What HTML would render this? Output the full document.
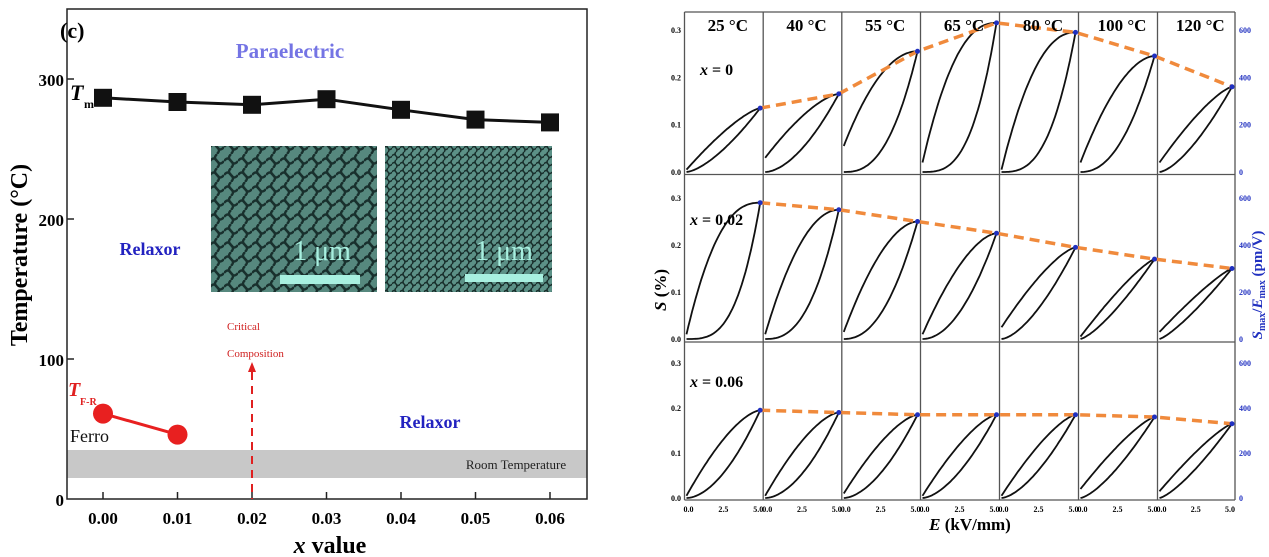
<!DOCTYPE html>
<html><head><meta charset="utf-8"><style>
body{margin:0;background:#fff}
svg{display:block;font-family:"Liberation Serif",serif;font-weight:bold}
</style></head><body>
<svg id="s" width="1269" height="557" viewBox="0 0 1269 557" xmlns="http://www.w3.org/2000/svg">
<rect x="67" y="450" width="520" height="28" fill="#c8c8c8"/>
<rect x="67" y="9" width="520" height="490" fill="none" stroke="#222" stroke-width="1.5"/>
<g stroke="#222" stroke-width="1.5">
<line x1="103" y1="499" x2="103" y2="492"/><line x1="177.5" y1="499" x2="177.5" y2="492"/><line x1="252" y1="499" x2="252" y2="492"/><line x1="326.5" y1="499" x2="326.5" y2="492"/><line x1="401" y1="499" x2="401" y2="492"/><line x1="475.5" y1="499" x2="475.5" y2="492"/><line x1="550" y1="499" x2="550" y2="492"/>
<line x1="67" y1="79" x2="74" y2="79"/><line x1="67" y1="219" x2="74" y2="219"/><line x1="67" y1="359" x2="74" y2="359"/>
</g>
<g font-size="17" text-anchor="end">
<text x="64" y="86">300</text><text x="64" y="226">200</text><text x="64" y="366">100</text><text x="64" y="506">0</text>
</g>
<g font-size="17" text-anchor="middle">
<text x="103" y="524">0.00</text><text x="177.5" y="524">0.01</text><text x="252" y="524">0.02</text><text x="326.5" y="524">0.03</text><text x="401" y="524">0.04</text><text x="475.5" y="524">0.05</text><text x="550" y="524">0.06</text>
</g>
<text x="330" y="553" font-size="24" text-anchor="middle"><tspan font-style="italic">x</tspan> value</text>
<text transform="translate(27,255) rotate(-90)" font-size="24" text-anchor="middle">Temperature (°C)</text>
<text x="60" y="38" font-size="22">(c)</text>
<text x="290" y="58" font-size="21" fill="#7474e4" text-anchor="middle">Paraelectric</text>
<text x="150" y="255" font-size="18" fill="#2222c0" text-anchor="middle">Relaxor</text>
<text x="430" y="428" font-size="18" fill="#2222c0" text-anchor="middle">Relaxor</text>
<text x="70" y="442" font-size="18" font-weight="normal" fill="#111">Ferro</text>
<text x="70" y="100" font-size="22" font-style="italic">T</text><text x="84" y="108" font-size="12">m</text>
<text x="68" y="396" font-size="20" font-style="italic" fill="#e02020">T</text><text x="80" y="405" font-size="10" fill="#e02020">F-R</text>
<text x="516" y="469" font-size="13" font-weight="normal" fill="#222" text-anchor="middle">Room Temperature</text>
<text x="227" y="330" font-size="11" font-weight="normal" fill="#d02020">Critical</text>
<text x="227" y="357" font-size="11" font-weight="normal" fill="#d02020">Composition</text>
<line x1="252" y1="372" x2="252" y2="499" stroke="#e02020" stroke-width="2" stroke-dasharray="8,6"/>
<polygon points="248,372 256,372 252,362" fill="#e02020"/>
<polyline points="103,97.8 177.5,102 252,104.8 326.5,99.2 401,109.8 475.5,119.6 550,122.4" fill="none" stroke="#111" stroke-width="3"/>
<g fill="#111">
<rect x="94" y="88.8" width="18" height="18"/><rect x="168.5" y="93" width="18" height="18"/><rect x="243" y="95.8" width="18" height="18"/><rect x="317.5" y="90.2" width="18" height="18"/><rect x="392" y="100.8" width="18" height="18"/><rect x="466.5" y="110.6" width="18" height="18"/><rect x="541" y="113.4" width="18" height="18"/>
</g>
<line x1="103" y1="413.6" x2="177.5" y2="434.6" stroke="#e82020" stroke-width="3"/>
<circle cx="103" cy="413.6" r="10" fill="#e82020"/><circle cx="177.5" cy="434.6" r="10" fill="#e82020"/>
<defs>
<pattern id="dom" width="14" height="14" patternUnits="userSpaceOnUse"><rect width="14" height="14" fill="#7fbcb0"/><path d="M0 7 Q4 2 7 7 T14 7 M7 0 Q3 4 7 7 T7 14" stroke="#1a2a28" stroke-width="2.4" fill="none"/></pattern>
<pattern id="dom2" width="8" height="8" patternUnits="userSpaceOnUse"><rect width="8" height="8" fill="#80c0b4"/><path d="M0 4 Q2 1 4 4 T8 4 M4 0 Q2 2 4 4 T4 8" stroke="#1a2a28" stroke-width="1.5" fill="none"/></pattern>
</defs>
<rect x="211" y="146" width="166" height="146" fill="url(#dom)"/>
<rect x="211" y="146" width="166" height="146" fill="#1a3a34" opacity="0.4"/>
<rect x="385" y="146" width="167" height="146" fill="url(#dom2)"/>
<rect x="385" y="146" width="167" height="146" fill="#1a3a34" opacity="0.35"/>
<text x="322" y="260" font-size="28" fill="#a8f0e0" text-anchor="middle" font-weight="normal">1 μm</text>
<rect x="280" y="275" width="80" height="9" fill="#a8f0e0"/>
<text x="504" y="260" font-size="28" fill="#a8f0e0" text-anchor="middle" font-weight="normal">1 μm</text>
<rect x="465" y="274" width="78" height="8" fill="#a8f0e0"/>
<g stroke="#555" stroke-width="1.3">
<line x1="684.5" y1="12" x2="684.5" y2="500"/><line x1="763.2" y1="12" x2="763.2" y2="500"/><line x1="841.8" y1="12" x2="841.8" y2="500"/><line x1="920.5" y1="12" x2="920.5" y2="500"/><line x1="999.5" y1="12" x2="999.5" y2="500"/><line x1="1078.5" y1="12" x2="1078.5" y2="500"/><line x1="1157.5" y1="12" x2="1157.5" y2="500"/><line x1="1235" y1="12" x2="1235" y2="500"/>
<line x1="684.5" y1="12" x2="1235" y2="12"/><line x1="684.5" y1="174.5" x2="1235" y2="174.5"/><line x1="684.5" y1="342" x2="1235" y2="342"/><line x1="684.5" y1="500" x2="1235" y2="500"/>
</g>
<g id="right"></g>
</svg>
<script>
var g=document.getElementById('right'),h='';
var cols=[684.5,763.2,841.8,920.5,999.5,1078.5,1157.5,1235];
var rows=[[12,174,32],[175,341,200],[343,500,365]];
var temps=['25 °C','40 °C','55 °C','65 °C','80 °C','100 °C','120 °C'];
var smax=[[.135,.165,.255,.315,.295,.245,.18],[.29,.275,.25,.225,.195,.17,.15],[.195,.19,.185,.185,.185,.18,.165]];
var wid=[[.25,.4,.9,1.2,1.1,.7,.25],[1.3,.9,.7,.55,.3,.15,.1],[.45,.45,.4,.35,.3,.2,.15]];
var s0u=[[.005,.03,.055,.02,.005,.02,.02],[.01,.01,.015,.01,.025,.005,.015],[.005,.005,.01,.005,.005,.02,.015]];
var names=['x = 0','x = 0.02','x = 0.06'],ny=[75,225,387];
for(var r=0;r<3;r++){
 var top=rows[r][0],bot=rows[r][1],y3=rows[r][2],k=(bot-y3)/0.3;
 var ends=[];
 for(var c=0;c<7;c++){
  var x0=cols[c]+2,x1=cols[c+1]-3,m=smax[r][c],w=wid[r][c],su0=s0u[r][c];
  var up='',lo='';
  for(var i=0;i<=40;i++){var t=i/40;
   var pl=1.1+1.6*w, pu=1.1+1.0*w;
   var sl=m*Math.pow(t,pl);
   var su=su0+(m-su0)*(1-Math.pow(1-t,pu));
   var xx=x0+(x1-x0)*t;
   lo+=(i?'L':'M')+xx.toFixed(1)+','+(bot-2-sl*k).toFixed(1);
   up+=(i?'L':'M')+xx.toFixed(1)+','+(bot-2-su*k).toFixed(1);}
  h+='<path d="'+lo+'" fill="none" stroke="#111" stroke-width="1.8"/><path d="'+up+'" fill="none" stroke="#111" stroke-width="1.8"/>';
  ends.push([x1,bot-2-m*k]);
 }
 h+='<polyline points="'+ends.map(function(p){return p.join(',')}).join(' ')+'" fill="none" stroke="#f08a3c" stroke-width="3.5" stroke-dasharray="10,6"/>';
 ends.forEach(function(p){h+='<circle cx="'+p[0]+'" cy="'+p[1]+'" r="2.5" fill="#2030c0"/>';});
 for(var j=0;j<4;j++){h+='<text x="681" y="'+(bot-2-j*0.1*k+3)+'" font-size="8" text-anchor="end">'+(j/10).toFixed(1)+'</text>';}
 for(var j=0;j<4;j++){h+='<text x="1239" y="'+(bot-2-j*0.1*k+3)+'" font-size="8" fill="#2030c0">'+(j*200)+'</text>';}
 h+='<text x="'+(r?690:700)+'" y="'+ny[r]+'" font-size="16"><tspan font-style="italic">x</tspan>'+names[r].slice(1)+'</text>';
}
for(var c=0;c<7;c++){
 h+='<text x="'+((cols[c]+cols[c+1])/2+4)+'" y="31" font-size="17" text-anchor="middle">'+temps[c]+'</text>';
 var x0=cols[c]+2,x1=cols[c+1]-3;
 h+='<text x="'+(x0+2)+'" y="512" font-size="8" text-anchor="middle">0.0</text><text x="'+((x0+x1)/2)+'" y="512" font-size="8" text-anchor="middle">2.5</text><text x="'+(x1-2)+'" y="512" font-size="8" text-anchor="middle">5.0</text>';
}
h+='<text transform="translate(666,290) rotate(-90)" font-size="17" text-anchor="middle"><tspan font-style="italic">S</tspan> (%)</text>';
h+='<text transform="translate(1262,285) rotate(-90)" font-size="15" fill="#2030c0" text-anchor="middle"><tspan font-style="italic">S</tspan><tspan font-size="10" dy="3">max</tspan><tspan dy="-3">/</tspan><tspan font-style="italic">E</tspan><tspan font-size="10" dy="3">max</tspan><tspan dy="-3"> (pm/V)</tspan></text>';
h+='<text x="970" y="530" font-size="17" text-anchor="middle"><tspan font-style="italic">E</tspan> (kV/mm)</text>';
g.innerHTML=h;
</script>
</body></html>
